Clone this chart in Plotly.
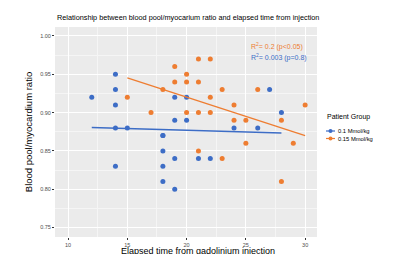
import numpy as np
import plotly.graph_objects as go

# Data: elapsed time (min) and blood pool/myocardium ratio
low_time = [12, 14, 14, 14, 14, 14, 15, 18, 18, 18, 18, 18, 19, 19, 19, 19, 20, 20, 21, 22, 24, 26, 27, 28]
low_ratio = [0.92, 0.95, 0.93, 0.91, 0.88, 0.83, 0.88, 0.87, 0.85, 0.83, 0.81, 0.87, 0.92, 0.89, 0.84, 0.80, 0.92, 0.89, 0.84, 0.84, 0.88, 0.88, 0.93, 0.90]

high_time = [15, 17, 18, 19, 19, 20, 20, 20, 21, 21, 21, 21, 22, 22, 22, 23, 23, 24, 24, 25, 25, 26, 28, 28, 29, 30]
high_ratio = [0.92, 0.90, 0.93, 0.96, 0.94, 0.95, 0.94, 0.90, 0.97, 0.94, 0.90, 0.85, 0.97, 0.92, 0.90, 0.93, 0.84, 0.91, 0.89, 0.89, 0.86, 0.93, 0.89, 0.81, 0.86, 0.91]

group_names = ["0.1 Mmol/kg", "0.15 Mmol/kg"]
group_colors = ["#3D6DC6", "#EE7D31"]
r2_labels = ["R<sup>2</sup>= 0.003 (p=0.8)", "R<sup>2</sup>= 0.2 (p<0.05)"]

x_ticks = [10, 15, 20, 25, 30]
y_ticks = [0.75, 0.80, 0.85, 0.90, 0.95, 1.00]

x_title = "Elapsed time from gadolinium injection"
y_title = "Blood pool/myocardium ratio"

# plot area in pixels (for paper-coordinate helpers)
W, H = 400, 254
L, R, T, B = 55, 83, 27, 17
PW, PH = W - L - R, H - T - B


def px_x(p):
    return (p - L) / PW


def px_y(p):
    return (H - B - p) / PH


fig = go.Figure()
groups = [(low_time, low_ratio), (high_time, high_ratio)]
for (xs, ys), name, col in zip(groups, group_names, group_colors):
    xs_a = np.array(xs, dtype=float)
    ys_a = np.array(ys, dtype=float)
    slope, inter = np.polyfit(xs_a, ys_a, 1)
    xl = np.array([xs_a.min(), xs_a.max()])
    fig.add_trace(go.Scatter(x=xl, y=slope * xl + inter, mode="lines",
                             line=dict(color=col, width=1.3), showlegend=False,
                             hoverinfo="skip"))
    fig.add_trace(go.Scatter(x=xs, y=ys, mode="markers", name=name,
                             marker=dict(color=col, size=5), showlegend=False))

axis_common = dict(
    showgrid=True, gridcolor="white", gridwidth=1, zeroline=False,
    ticks="outside", ticklen=2, tickcolor="#333333",
    tickfont=dict(size=5.5, color="#4D4D4D"), showline=False,
)

fig.update_xaxes(range=[8.9, 31.0], tickvals=x_ticks,
                 ticktext=[str(v) for v in x_ticks],
                 minor=dict(dtick=2.5, tick0=7.5, showgrid=True, gridcolor="#F5F5F5", gridwidth=0.5),
                 **axis_common)
fig.update_yaxes(range=[0.7376, 1.0117], tickvals=y_ticks,
                 ticktext=[f"{v:.2f}" for v in y_ticks],
                 minor=dict(dtick=0.025, tick0=0.725, showgrid=True, gridcolor="#F5F5F5", gridwidth=0.5),
                 title=dict(text=y_title,
                            font=dict(size=9.5, color="#000000"), standoff=5),
                 **axis_common)

# x-axis title as annotation so it can sit at the very bottom edge
fig.add_annotation(x=px_x(198), y=px_y(251), xref="paper", yref="paper", text=x_title,
                   showarrow=False, xanchor="center", yanchor="middle",
                   font=dict(size=9, color="#000000"))

fig.add_annotation(x=px_x(249), y=px_y(40), xref="paper", yref="paper", text=r2_labels[1],
                   showarrow=False, xanchor="left", font=dict(size=7, color=group_colors[1]))
fig.add_annotation(x=px_x(249), y=px_y(51), xref="paper", yref="paper", text=r2_labels[0],
                   showarrow=False, xanchor="left", font=dict(size=7, color=group_colors[0]))

# manual legend (compact, ggplot style)
fig.add_annotation(x=px_x(325), y=px_y(117), xref="paper", yref="paper", text="Patient Group",
                   showarrow=False, xanchor="left", font=dict(size=7, color="#000000"))
for i, (name, col) in enumerate(zip(group_names, group_colors)):
    cy = 131 + 7.5 * i
    fig.add_shape(type="line", xref="paper", yref="paper",
                  x0=px_x(326), x1=px_x(335), y0=px_y(cy), y1=px_y(cy),
                  line=dict(color=col, width=1.2))
    fig.add_shape(type="circle", xref="paper", yref="paper",
                  x0=px_x(328.5), x1=px_x(332.5), y0=px_y(cy + 2), y1=px_y(cy - 2),
                  fillcolor=col, line=dict(width=0))
    fig.add_annotation(x=px_x(336), y=px_y(cy), xref="paper", yref="paper", text=name,
                       showarrow=False, xanchor="left", font=dict(size=5.8, color="#000000"))

# truncated figure caption at the bottom edge
fig.add_annotation(x=px_x(63), y=px_y(252), xref="paper", yref="paper", text="Figure 2",
                   showarrow=False, xanchor="left", yanchor="top",
                   font=dict(size=9, color="#444444"))

fig.update_layout(
    width=W, height=H,
    margin=dict(l=L, r=R, t=T, b=B, autoexpand=False),
    paper_bgcolor="white", plot_bgcolor="#EBEBEB",
    font=dict(family="Liberation Sans, Arial, sans-serif"),
    showlegend=False,
    title=dict(text="Relationship between blood pool/myocarium ratio and elapsed time from injection",
               x=57 / W, xanchor="left", y=1 - 17 / H, yanchor="middle",
               pad=dict(l=0, r=0, t=0, b=0),
               font=dict(size=7.3, color="#000000")),
)

fig.write_html("out.html", config={"displayModeBar": False},
               post_script="document.body.style.margin='0';document.body.style.overflow='hidden';")
